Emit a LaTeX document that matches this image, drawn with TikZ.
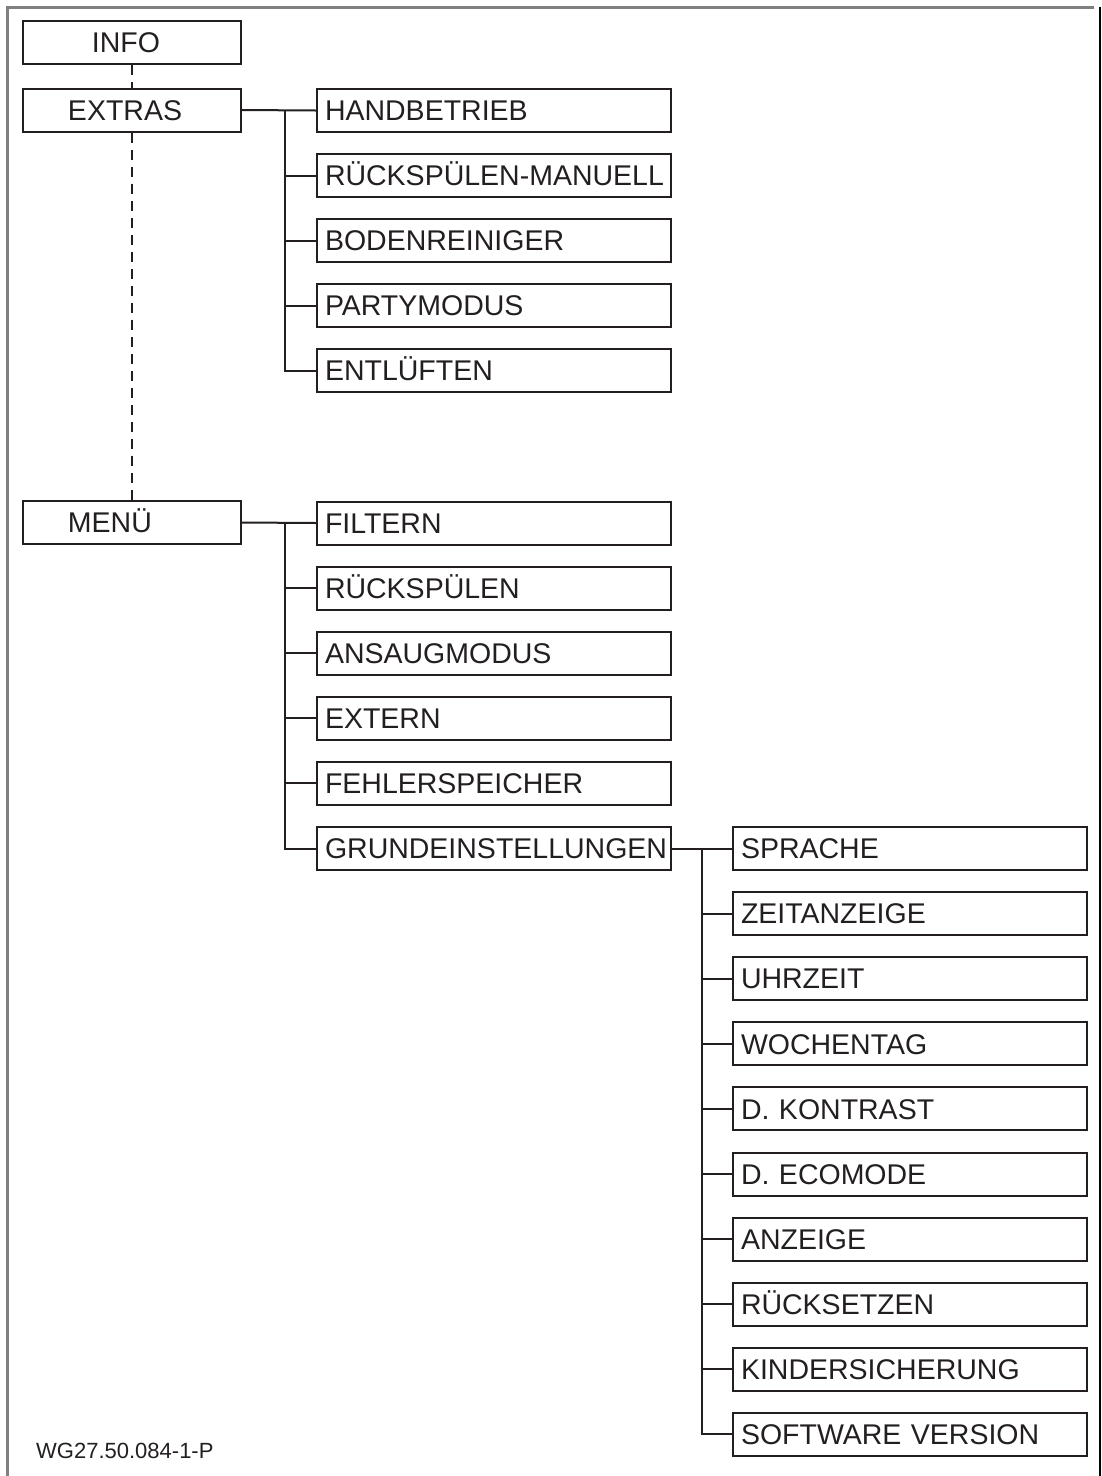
\documentclass[tikz,border=0pt]{standalone}
\usepackage{fontspec}
\setmainfont{Liberation Sans}
\definecolor{ink}{HTML}{231F20}
\definecolor{framegray}{HTML}{808080}
\begin{document}
\begin{tikzpicture}[x=1pt,y=-1pt,
  every node/.style={text=ink},
  mbox/.style={draw=ink, line width=2pt, minimum height=43pt, inner xsep=0pt, inner ysep=0pt,
     text width=218pt, align=left, text height=20.4pt, text depth=0pt,
     font=\fontsize{28.5}{30}\selectfont},
  cbox/.style={draw=ink, line width=2pt, minimum height=43pt, inner xsep=8pt, inner ysep=0pt,
     text width=338pt, align=left, text height=20.4pt, text depth=0pt,
     font=\fontsize{28.5}{30}\selectfont},
  conn/.style={draw=ink, line width=2pt},
  dconn/.style={draw=ink, line width=1.8pt, dash pattern=on 10pt off 7pt}]
\useasboundingbox (0,0) rectangle (1101,1476);
% frame
\draw[framegray, line width=2.5pt] (7.5,1476) -- (7.5,7.5) -- (1094,7.5);
\draw[black, line width=2.5pt] (1099.8,7) -- (1099.8,1476);

% main column
\node[mbox] (info) at (132,42.5) {\hspace*{69pt}INFO};
\node[mbox] (extras) at (132,110) {\hspace*{45pt}EXTRAS};
\node[mbox] (menu) at (132,522.5) {\hspace*{45pt}MENÜ};
\draw[dconn] (info.south) -- (extras.north);
\draw[dconn] (extras.south) -- (menu.north);

% EXTRAS children
\node[cbox] (hand) at (494,110.5) {HANDBETRIEB};
\node[cbox] (rman) at (494,175.5) {\mbox{RÜCKSPÜLEN-MANUELL}};
\node[cbox] (boden) at (494,240.5) {BODENREINIGER};
\node[cbox] (party) at (494,305.5) {PARTYMODUS};
\node[cbox] (entl) at (494,370.5) {ENTLÜFTEN};
\coordinate (b1) at (285,110.5);
\draw[conn] (extras.east) -- (hand.west);
\draw[conn] (b1) |- (entl.west);
\foreach \n in {rman,boden,party}{\draw[conn] (b1 |- \n.west) -- (\n.west);}

% MENU children
\node[cbox] (filt) at (494,523) {FILTERN};
\node[cbox] (rsp) at (494,588) {RÜCKSPÜLEN};
\node[cbox] (ans) at (494,653) {ANSAUGMODUS};
\node[cbox] (ext) at (494,718) {EXTERN};
\node[cbox] (fehl) at (494,783) {FEHLERSPEICHER};
\node[cbox] (grund) at (494,848.5) {\mbox{GRUNDEINSTELLUNGEN}};
\coordinate (b2) at (285,523);
\draw[conn] (menu.east) -- (filt.west);
\draw[conn] (b2) |- (grund.west);
\foreach \n in {rsp,ans,ext,fehl}{\draw[conn] (b2 |- \n.west) -- (\n.west);}

% GRUNDEINSTELLUNGEN children
\foreach \n/\t [count=\i from 0] in {spr/SPRACHE, zeit/ZEITANZEIGE, uhr/UHRZEIT, woch/WOCHENTAG,
   kon/D. KONTRAST, eco/D. ECOMODE, anz/ANZEIGE, rset/RÜCKSETZEN, kind/KINDERSICHERUNG, soft/SOFTWARE VERSION}
  {\node[cbox] (\n) at (910,848.5+65.1*\i) {\t};}
\coordinate (b3) at (702,848.5);
\draw[conn] (grund.east) -- (spr.west);
\draw[conn] (b3) |- (soft.west);
\foreach \n in {zeit,uhr,woch,kon,eco,anz,rset,kind}{\draw[conn] (b3 |- \n.west) -- (\n.west);}

% figure id
\node[anchor=base west, inner sep=0pt, font=\fontsize{22}{24}\selectfont] (figid) at (36,1458) {WG27.50.084-1-P};
\end{tikzpicture}
\end{document}
